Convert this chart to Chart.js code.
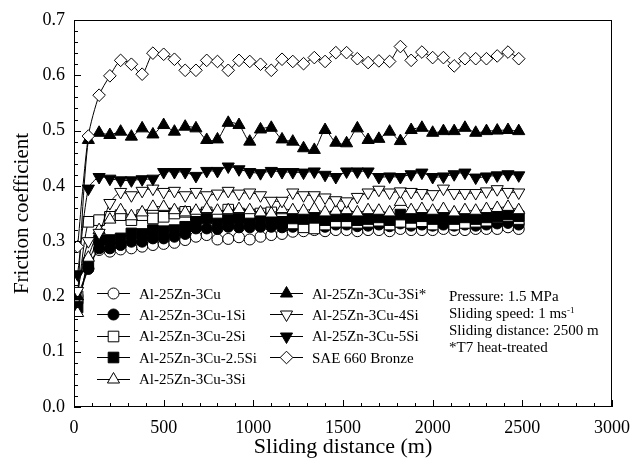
<!DOCTYPE html>
<html>
<head>
<meta charset="utf-8">
<script src="https://cdn.jsdelivr.net/npm/chart.js@4.4.0/dist/chart.umd.min.js"></script>
<style>
body { margin: 0; background: #fff; }
#wrap { position: relative; width: 633px; height: 465px; }
#notes { position: absolute; left: 449px; top: 288px; font-family: "Liberation Serif", "Times New Roman", serif; font-size: 15px; line-height: 17px; color: #000; white-space: nowrap; }
#notes sup { font-size: 9px; line-height: 0; vertical-align: 5px; }
</style>
</head>
<body>
<div id="wrap">
<canvas id="myChart"></canvas>
<div id="notes">Pressure: 1.5 MPa<br>Sliding speed: 1 ms<sup>-1</sup><br>Sliding distance: 2500 m<br>*T7 heat-treated</div>
</div>
<script>
// sliding distance (m) of each measurement
const distance = [20, 80, 140, 200, 260, 320, 380, 440, 500, 560, 620, 680, 740, 800, 860, 920, 980, 1040, 1100, 1160, 1220,
    1280, 1340, 1400, 1460, 1520, 1580, 1640, 1700, 1760, 1820, 1880, 1940, 2000, 2060, 2120, 2180, 2240, 2300, 2360, 2420, 2480];

// friction coefficient per alloy
const al3Cu = [0.20, 0.25, 0.284, 0.281, 0.285, 0.287, 0.290, 0.293, 0.295, 0.297, 0.302, 0.308, 0.311, 0.303, 0.304, 0.307, 0.303, 0.308, 0.311, 0.313, 0.317,
    0.318, 0.320, 0.318, 0.320, 0.320, 0.318, 0.320, 0.320, 0.318, 0.322, 0.320, 0.320, 0.320, 0.322, 0.320, 0.320, 0.322, 0.322, 0.322, 0.325, 0.322];
const al1Si = [0.19, 0.25, 0.287, 0.287, 0.293, 0.299, 0.299, 0.305, 0.305, 0.308, 0.313, 0.323, 0.323, 0.322, 0.326, 0.325, 0.325, 0.326, 0.326, 0.325, 0.326,
    0.327, 0.328, 0.326, 0.330, 0.330, 0.327, 0.328, 0.330, 0.327, 0.332, 0.328, 0.330, 0.328, 0.330, 0.328, 0.330, 0.328, 0.330, 0.332, 0.333, 0.330];
const al2Si = [0.20, 0.335, 0.338, 0.344, 0.347, 0.338, 0.347, 0.341, 0.344, 0.350, 0.353, 0.348, 0.352, 0.345, 0.357, 0.350, 0.348, 0.350, 0.352, 0.340, 0.332,
    0.325, 0.323, 0.330, 0.335, 0.335, 0.333, 0.335, 0.337, 0.330, 0.335, 0.333, 0.336, 0.330, 0.343, 0.330, 0.333, 0.335, 0.337, 0.343, 0.345, 0.340];
const al25Si = [0.18, 0.26, 0.302, 0.302, 0.305, 0.314, 0.313, 0.320, 0.318, 0.320, 0.326, 0.335, 0.341, 0.332, 0.338, 0.341, 0.332, 0.335, 0.340, 0.335, 0.341,
    0.340, 0.343, 0.338, 0.345, 0.345, 0.338, 0.340, 0.343, 0.338, 0.348, 0.342, 0.345, 0.340, 0.343, 0.340, 0.343, 0.340, 0.343, 0.345, 0.348, 0.345];
const al3Si = [0.17, 0.27, 0.32, 0.339, 0.356, 0.345, 0.352, 0.362, 0.362, 0.356, 0.352, 0.355, 0.358, 0.355, 0.356, 0.358, 0.356, 0.352, 0.350, 0.358, 0.356,
    0.355, 0.358, 0.352, 0.355, 0.356, 0.352, 0.356, 0.355, 0.352, 0.371, 0.356, 0.358, 0.355, 0.358, 0.352, 0.356, 0.355, 0.358, 0.360, 0.362, 0.356];
const al3SiT7 = [0.20, 0.483, 0.496, 0.492, 0.498, 0.489, 0.504, 0.493, 0.510, 0.498, 0.507, 0.504, 0.483, 0.484, 0.514, 0.510, 0.480, 0.502, 0.505, 0.484, 0.480,
    0.468, 0.465, 0.501, 0.478, 0.477, 0.504, 0.483, 0.485, 0.498, 0.481, 0.501, 0.505, 0.496, 0.499, 0.499, 0.505, 0.496, 0.499, 0.500, 0.501, 0.499];
const al4Si = [0.21, 0.30, 0.315, 0.369, 0.389, 0.383, 0.391, 0.395, 0.389, 0.391, 0.383, 0.389, 0.383, 0.386, 0.391, 0.386, 0.388, 0.383, 0.373, 0.373, 0.388,
    0.383, 0.383, 0.379, 0.374, 0.372, 0.380, 0.388, 0.393, 0.388, 0.390, 0.389, 0.387, 0.385, 0.395, 0.387, 0.387, 0.387, 0.390, 0.394, 0.389, 0.388];
const al5Si = [0.24, 0.395, 0.416, 0.413, 0.410, 0.410, 0.412, 0.413, 0.425, 0.425, 0.425, 0.418, 0.427, 0.427, 0.435, 0.430, 0.425, 0.423, 0.427, 0.425, 0.425,
    0.424, 0.426, 0.420, 0.416, 0.426, 0.426, 0.426, 0.416, 0.417, 0.416, 0.421, 0.424, 0.416, 0.417, 0.421, 0.424, 0.415, 0.417, 0.419, 0.421, 0.419];
const sae660 = [0.29, 0.49, 0.564, 0.599, 0.627, 0.620, 0.602, 0.640, 0.638, 0.629, 0.609, 0.609, 0.627, 0.625, 0.609, 0.627, 0.625, 0.620, 0.609, 0.629, 0.625,
    0.621, 0.632, 0.625, 0.641, 0.641, 0.630, 0.623, 0.626, 0.625, 0.652, 0.627, 0.642, 0.632, 0.632, 0.617, 0.630, 0.630, 0.630, 0.635, 0.642, 0.630];

// axis ticks
const xTickValues = [0, 500, 1000, 1500, 2000, 2500, 3000];
const yTickValues = [0.0, 0.1, 0.2, 0.3, 0.4, 0.5, 0.6, 0.7];

const serif = '"Liberation Serif", "Times New Roman", serif';

const series = [
    { label: 'Al-25Zn-3Cu', values: al3Cu, style: 'circle', fill: '#fff', r: 5.5, rot: 0 },
    { label: 'Al-25Zn-3Cu-1Si', values: al1Si, style: 'circle', fill: '#000', r: 5.5, rot: 0 },
    { label: 'Al-25Zn-3Cu-2Si', values: al2Si, style: 'rect', fill: '#fff', r: 7.5, rot: 0 },
    { label: 'Al-25Zn-3Cu-2.5Si', values: al25Si, style: 'rect', fill: '#000', r: 7.5, rot: 0 },
    { label: 'Al-25Zn-3Cu-3Si', values: al3Si, style: 'triangle', fill: '#fff', r: 7, rot: 0 },
    { label: 'Al-25Zn-3Cu-3Si*', values: al3SiT7, style: 'triangle', fill: '#000', r: 7, rot: 0 },
    { label: 'Al-25Zn-3Cu-4Si', values: al4Si, style: 'triangle', fill: '#fff', r: 7, rot: 180 },
    { label: 'Al-25Zn-3Cu-5Si', values: al5Si, style: 'triangle', fill: '#000', r: 7, rot: 180 },
    { label: 'SAE 660 Bronze', values: sae660, style: 'rectRot', fill: '#fff', r: 6.3, rot: 0 }
];

const datasets = series.map((s, i) => ({
    label: s.label,
    data: distance.map((d, j) => ({ x: d, y: s.values[j] })),
    borderColor: '#000',
    borderWidth: 1,
    pointStyle: s.style,
    pointRotation: s.rot,
    pointRadius: s.r,
    pointBackgroundColor: s.fill,
    pointBorderColor: '#000',
    pointBorderWidth: 1,
    tension: 0.25,
    fill: false,
    order: series.length - i
}));

function marker(ctx, s, x, y) {
    ctx.fillStyle = s.fill;
    ctx.strokeStyle = '#000';
    ctx.lineWidth = 1;
    Chart.helpers.drawPoint(ctx, { pointStyle: s.style, rotation: s.rot, radius: s.r, borderWidth: 1 }, x, y);
}

// frame, inward ticks and the legend inside the plot
const decorations = {
    id: 'decorations',
    afterDraw(chart) {
        const { ctx, chartArea: a, scales: { x, y } } = chart;
        ctx.save();
        ctx.strokeStyle = '#000';
        ctx.lineWidth = 1;
        ctx.strokeRect(a.left + 0.5, a.top + 0.5, a.right - a.left - 1, a.bottom - a.top - 1);
        ctx.beginPath();
        for (let v = 0; v <= 3000; v += 100) {
            const px = Math.round(x.getPixelForValue(v)) + 0.5;
            const len = v % 500 === 0 ? 7 : 4;
            ctx.moveTo(px, a.bottom);
            ctx.lineTo(px, a.bottom - len);
        }
        for (let i = 0; i <= 35; i++) {
            const py = Math.round(y.getPixelForValue(i * 0.02)) + 0.5;
            const len = i % 5 === 0 ? 7 : 4;
            ctx.moveTo(a.left, py);
            ctx.lineTo(a.left + len, py);
        }
        ctx.stroke();

        // legend
        ctx.font = '15px ' + serif;
        ctx.textBaseline = 'alphabetic';
        series.forEach((s, i) => {
            const col = i < 5 ? 0 : 1;
            const row = i < 5 ? i : i - 5;
            const lx = col === 0 ? 97 : 270;
            const ly = 293 + row * 21.4;
            ctx.strokeStyle = '#000';
            ctx.lineWidth = 1;
            ctx.beginPath();
            ctx.moveTo(lx, Math.round(ly) + 0.5);
            ctx.lineTo(lx + 33, Math.round(ly) + 0.5);
            ctx.stroke();
            marker(ctx, s, lx + 16.5, Math.round(ly) + 0.5);
            ctx.fillStyle = '#000';
            ctx.fillText(s.label, lx + 42, ly + 5.5);
        });
        ctx.restore();
    }
};

const config = {
    type: 'line',
    data: { datasets: datasets },
    options: {
        responsive: true,
        maintainAspectRatio: false,
        animation: false,
        layout: { padding: { left: 0, top: 20, right: 21, bottom: 0 } },
        plugins: {
            legend: { display: false },
            tooltip: { enabled: false }
        },
        scales: {
            x: {
                type: 'linear',
                min: 0,
                max: 3000,
                afterBuildTicks: (scale) => { scale.ticks = xTickValues.map(v => ({ value: v })); },
                afterFit: (scale) => { scale.height = 58; },
                grid: { display: false },
                border: { display: false },
                ticks: { color: '#000', padding: 2, maxRotation: 0, font: { family: serif, size: 18 }, callback: (v) => String(v) },
                title: { display: true, text: 'Sliding distance (m)', color: '#000', padding: { top: 0, bottom: 5 }, font: { family: serif, size: 22 } }
            },
            y: {
                min: 0,
                max: 0.7,
                afterBuildTicks: (scale) => { scale.ticks = yTickValues.map(v => ({ value: v })); },
                afterFit: (scale) => { scale.width = 74; },
                grid: { display: false },
                border: { display: false },
                ticks: { color: '#000', padding: 1, font: { family: serif, size: 18 }, callback: (v) => v.toFixed(1) },
                title: { display: true, text: 'Friction coefficient', color: '#000', padding: { top: 10, bottom: 0 }, font: { family: serif, size: 21 } }
            }
        }
    },
    plugins: [decorations]
};

const myChart = new Chart(document.getElementById('myChart'), config);
</script>
</body>
</html>
